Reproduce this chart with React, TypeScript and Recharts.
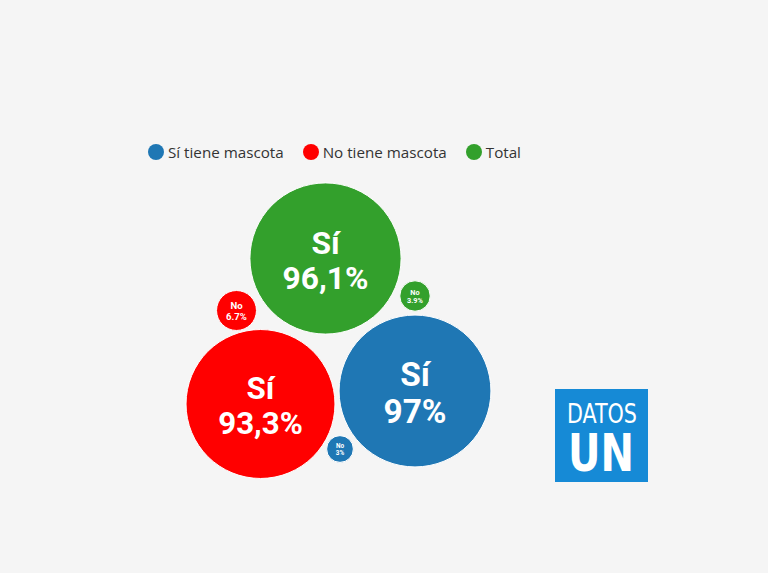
import { Scatter, ScatterChart, XAxis, YAxis, ZAxis, Legend } from "recharts";

// three groups, each with a "Sí" and a "No" bubble
const seriesNames = ["Sí tiene mascota", "No tiene mascota", "Total"];
const seriesColors = ["#1f77b4", "#ff0000", "#33a02c"];
const siValues = [97, 93.3, 96.1];
const noValues = [3, 6.7, 3.9];
const siLabels = ["97%", "93,3%", "96,1%"];
const noLabels = ["3%", "6.7%", "3.9%"];
// packed layout (chart units)
const siX = [415, 260.5, 325.5];
const siY = [391, 404, 258.5];
const noX = [340, 236.5, 415];
const noY = [449, 310.5, 296];

const W = 768;
const H = 573;
const MAX_AREA = Math.PI * 77.1 * 77.1;

const groups = seriesNames.map((name, i) => ({
    name,
    color: seriesColors[i],
    points: [
        { x: siX[i], y: siY[i], v: siValues[i], head: "Sí", label: siLabels[i], big: true },
        { x: noX[i], y: noY[i], v: noValues[i], head: "No", label: noLabels[i], big: false },
    ],
}));

function Bubble(props: any) {
    const { cx, cy, payload, fill } = props;
    const r = props.size ? Math.sqrt(props.size / Math.PI) : props.width / 2;
    const fs = payload.big ? r * (payload.label.length <= 3 ? 0.44 : 0.42) : r * 0.48;
    return (
        <g>
            <circle cx={cx} cy={cy} r={r} fill={fill} stroke="#ffffff" strokeWidth={1} />
            <text
                textAnchor="middle"
                fill="#ffffff"
                fontFamily="Roboto, sans-serif"
                fontWeight={700}
                fontSize={fs}
            >
                <tspan x={cx} y={cy - fs * 0.15}>{payload.head}</tspan>
                <tspan x={cx} y={cy + fs * 0.95}>{payload.label}</tspan>
            </text>
        </g>
    );
}

function LegendContent({ payload }: any) {
    const items = [...(payload || [])].sort(
        (a: any, b: any) => seriesNames.indexOf(a.value) - seriesNames.indexOf(b.value)
    );
    return (
        <div style={{ display: "flex", alignItems: "center", height: 20 }}>
            {items.map((entry: any) => (
                <div key={entry.value} style={{ display: "flex", alignItems: "center", marginRight: 19 }}>
                    <svg width={16} height={16} style={{ marginRight: 4 }}>
                        <circle cx={8} cy={8} r={8} fill={entry.color} />
                    </svg>
                    <span style={{ fontFamily: "'Open Sans', sans-serif", fontSize: 15.2, color: "#333333" }}>
                        {entry.value}
                    </span>
                </div>
            ))}
        </div>
    );
}

function Logo() {
    // drawn with some padding so the glyph boxes stay inside the svg
    return (
        <svg width={113} height={113} style={{ position: "absolute", left: 545, top: 379 }}>
            <rect x={10} y={10} width={93} height={93} fill="#168ad6" />
            <text
                x={22}
                y={44}
                fill="#ffffff"
                fontFamily="'Liberation Sans Narrow', 'DejaVu Sans Condensed', sans-serif"
                fontSize={27}
                textLength={70}
                lengthAdjust="spacingAndGlyphs"
            >
                DATOS
            </text>
            <text
                x={23}
                y={92}
                fill="#ffffff"
                fontFamily="'DejaVu Sans', sans-serif"
                fontWeight={700}
                fontSize={52}
                textLength={66}
                lengthAdjust="spacingAndGlyphs"
            >
                UN
            </text>
        </svg>
    );
}

export default function App() {
    return (
        <div style={{ position: "relative", width: W, height: H, background: "#f5f5f5" }}>
            <style>{`body { margin: 0; }`}</style>
            <ScatterChart width={W} height={H} margin={{ top: 0, right: 0, bottom: 0, left: 0 }}>
                <XAxis type="number" dataKey="x" domain={[0, W]} hide />
                <YAxis type="number" dataKey="y" domain={[0, H]} reversed hide />
                <ZAxis type="number" dataKey="v" domain={[0, 100]} range={[0, MAX_AREA]} />
                <Legend
                    layout="horizontal"
                    verticalAlign="middle"
                    align="center"
                    content={<LegendContent />}
                    wrapperStyle={{ top: 142, left: 148, width: "auto" }}
                />
                {groups.map((g) => (
                    <Scatter
                        key={g.name}
                        name={g.name}
                        data={g.points}
                        fill={g.color}
                        shape={<Bubble />}
                        isAnimationActive={false}
                    />
                ))}
            </ScatterChart>
            <Logo />
        </div>
    );
}
